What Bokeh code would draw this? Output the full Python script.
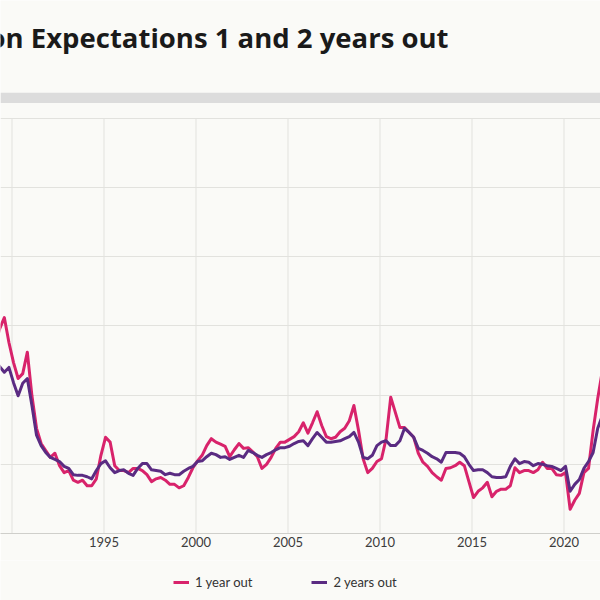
from bokeh.plotting import figure
from bokeh.layouts import column
from bokeh.models import Range1d, FixedTicker, Legend, LegendItem, Label, BoxAnnotation
from bokeh.embed import file_html
from bokeh.resources import INLINE

# ---------------- data ----------------
title_text = "Inflation Expectations 1 and 2 years out"
survey_years = list(range(1989, 2022))
survey_months = [2, 5, 8, 11]
last_survey = (2022, 2)

one_year = [
    3.72, 3.96, 4.12, 3.76,   # 1989
    3.47, 3.24, 3.31, 3.62,   # 1990
    2.99, 2.52, 2.30, 2.20,   # 1991
    2.10, 2.16, 1.98, 1.88,   # 1992
    1.91, 1.77, 1.74, 1.77,   # 1993
    1.69, 1.69, 1.79, 2.13,   # 1994
    2.39, 2.32, 1.98, 1.91,   # 1995
    1.91, 1.88, 1.94, 1.94,   # 1996
    1.91, 1.85, 1.75, 1.79,   # 1997
    1.81, 1.77, 1.71, 1.71,   # 1998
    1.66, 1.69, 1.81, 1.95,   # 1999
    2.05, 2.13, 2.27, 2.37,   # 2000
    2.32, 2.29, 2.26, 2.11,   # 2001
    2.21, 2.30, 2.23, 2.24,   # 2002
    2.18, 2.11, 1.94, 2.00,   # 2003
    2.10, 2.23, 2.32, 2.32,   # 2004
    2.36, 2.40, 2.47, 2.60,   # 2005
    2.45, 2.60, 2.76, 2.56,   # 2006
    2.40, 2.37, 2.39, 2.47,   # 2007
    2.52, 2.63, 2.85, 2.49,   # 2008
    2.08, 1.88, 1.94, 2.04,   # 2009
    2.08, 2.37, 2.97, 2.75,   # 2010
    2.53, 2.53, 2.46, 2.39,   # 2011
    2.16, 2.03, 1.97, 1.88,   # 2012
    1.82, 1.77, 1.94, 1.95,   # 2013
    1.98, 2.03, 1.98, 1.75,   # 2014
    1.52, 1.61, 1.66, 1.74,   # 2015
    1.53, 1.61, 1.64, 1.64,   # 2016
    1.69, 1.95, 1.88, 1.91,   # 2017
    1.91, 1.88, 1.92, 2.03,   # 2018
    1.94, 1.94, 1.85, 1.84,   # 2019
    1.88, 1.35, 1.48, 1.58,   # 2020
    1.88, 1.94, 2.49, 2.95,   # 2021
    3.35,                     # 2022
]

two_years = [
    3.50, 3.41, 3.33, 3.40,   # 1989
    3.18, 2.99, 3.17, 3.24,   # 1990
    2.85, 2.42, 2.27, 2.17,   # 1991
    2.10, 2.07, 2.04, 1.97,   # 1992
    1.94, 1.85, 1.84, 1.84,   # 1993
    1.82, 1.79, 1.91, 2.01,   # 1994
    2.05, 1.95, 1.88, 1.91,   # 1995
    1.92, 1.87, 1.84, 1.94,   # 1996
    2.01, 2.01, 1.92, 1.91,   # 1997
    1.90, 1.85, 1.87, 1.85,   # 1998
    1.85, 1.90, 1.94, 1.97,   # 1999
    2.04, 2.05, 2.11, 2.16,   # 2000
    2.14, 2.10, 2.11, 2.07,   # 2001
    2.10, 2.13, 2.10, 2.20,   # 2002
    2.17, 2.13, 2.10, 2.14,   # 2003
    2.17, 2.21, 2.24, 2.24,   # 2004
    2.26, 2.30, 2.33, 2.34,   # 2005
    2.27, 2.37, 2.46, 2.39,   # 2006
    2.32, 2.32, 2.33, 2.34,   # 2007
    2.37, 2.40, 2.46, 2.32,   # 2008
    2.10, 2.08, 2.13, 2.27,   # 2009
    2.32, 2.34, 2.27, 2.27,   # 2010
    2.34, 2.52, 2.46, 2.39,   # 2011
    2.23, 2.20, 2.16, 2.11,   # 2012
    2.08, 2.03, 2.17, 2.17,   # 2013
    2.17, 2.16, 2.11, 2.00,   # 2014
    1.91, 1.92, 1.92, 1.88,   # 2015
    1.82, 1.81, 1.81, 1.82,   # 2016
    1.97, 2.08, 2.01, 2.04,   # 2017
    2.03, 1.98, 2.01, 2.00,   # 2018
    1.98, 1.97, 1.94, 1.91,   # 2019
    1.97, 1.61, 1.71, 1.78,   # 2020
    1.94, 2.04, 2.17, 2.52,   # 2021
    2.70,                     # 2022
]

tick_years = [1995, 2000, 2005, 2010, 2015, 2020]
grid_years = [1990, 1995, 2000, 2005, 2010, 2015, 2020]
grid_levels = [1, 2, 3, 4, 5, 6, 7]
series_names = ["1 year out", "2 years out"]

# ---------------- styling ----------------
BG = "#fafaf7"
PINK = "#d8236b"
PURPLE = "#5a2b82"
GRID = "#e2e2de"
FONT = "Lato"

dates = [y + (m - 1) / 12 for y in survey_years for m in survey_months]
dates.append(last_survey[0] + (last_survey[1] - 1) / 12)

p = figure(
    width=600, height=560,
    output_backend="svg", toolbar_location=None, title=None,
    x_range=Range1d(1989.375, 2021.984), y_range=Range1d(1, 8.702),
    y_axis_location=None,
    min_border_left=0, min_border_right=0, min_border_top=0, min_border_bottom=27,
    background_fill_color=BG, border_fill_color=BG,
)
p.outline_line_color = None

# grid
p.xgrid.visible = False
p.ygrid.ticker = FixedTicker(ticks=grid_levels)
p.ygrid.bounds = (min(grid_levels), max(grid_levels))
p.ygrid.grid_line_color = GRID
p.ygrid.grid_line_width = 1
p.segment(x0=grid_years, y0=[min(grid_levels)] * len(grid_years),
          x1=grid_years, y1=[max(grid_levels)] * len(grid_years),
          line_color=GRID, line_width=1)

# header band
p.add_layout(BoxAnnotation(bottom=7.22, top=7.37, fill_color="#dcdcdc", fill_alpha=1.0,
                           line_color=None, level="underlay"))

# axis
ax = p.xaxis[0]
ax.ticker = FixedTicker(ticks=tick_years)
ax.axis_line_color = "#cfcfcb"
ax.axis_line_width = 1
ax.major_tick_line_color = None
ax.minor_tick_line_color = None
ax.major_tick_out = 0
ax.major_tick_in = 0
ax.minor_tick_out = 0
ax.major_label_standoff = 3
ax.major_label_text_font = FONT
ax.major_label_text_font_size = "13px"
ax.major_label_text_color = "#3c3c3c"

# lines
r1 = p.line(dates, one_year, line_color=PINK, line_width=3, line_join="round")
r2 = p.line(dates, two_years, line_color=PURPLE, line_width=3, line_join="round")

# title (left part cropped like the reference)
p.add_layout(Label(x=448, y=496, x_units="screen", y_units="screen", text=title_text,
                   text_font="Open Sans", text_font_style="bold",
                   text_font_size="27.5px", text_color="#1a1a1a",
                   text_align="right", text_baseline="alphabetic"))

# ---------------- legend strip ----------------
pl = figure(
    width=600, height=40,
    output_backend="svg", toolbar_location=None, title=None,
    x_range=Range1d(0, 1), y_range=Range1d(0, 1),
    x_axis_location=None, y_axis_location=None,
    min_border_left=0, min_border_right=0, min_border_top=0, min_border_bottom=0,
    background_fill_color=BG, border_fill_color=BG,
)
pl.outline_line_color = None
pl.grid.visible = False
# same series, outside this strip's ranges: only their legend swatches show
k1 = pl.line(dates, one_year, line_color=PINK, line_width=3)
k2 = pl.line(dates, two_years, line_color=PURPLE, line_width=3)

legend = Legend(
    items=[LegendItem(label=series_names[0], renderers=[k1]),
           LegendItem(label=series_names[1], renderers=[k2])],
    orientation="horizontal", location=(173, 10),
    spacing=59, padding=0, margin=0,
    border_line_color=None, background_fill_alpha=0,
    glyph_width=16, glyph_height=14, label_standoff=6, label_height=14,
    label_text_font=FONT, label_text_font_size="13px", label_text_color="#333333",
)
pl.add_layout(legend)

layout = column(p, pl, spacing=0)
open("out.html", "w").write(file_html(layout, INLINE))
